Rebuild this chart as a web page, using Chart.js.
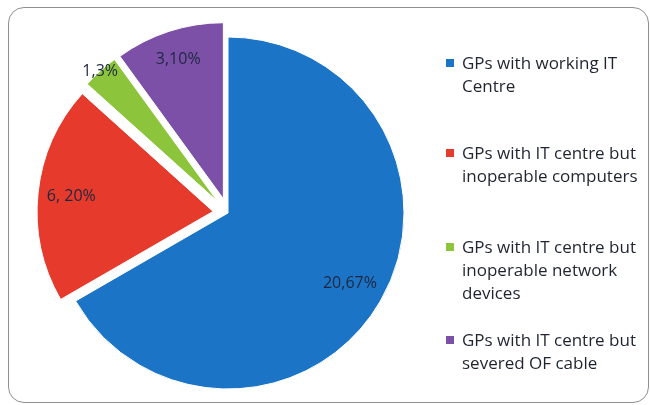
<!DOCTYPE html>
<html>
<head>
<meta charset="utf-8">
<script src="https://cdn.jsdelivr.net/npm/chart.js@4/dist/chart.umd.min.js"></script>
<style>
  html, body { margin: 0; padding: 0; background: #ffffff; overflow: hidden; }
  #wrap { position: relative; width: 650px; height: 405px; }
  #frame { position: absolute; left: 8px; top: 7px; width: 641px; height: 396px;
           border: 1.5px solid #8f8f8f; border-radius: 16px; box-sizing: border-box; }
  #pieBox { position: absolute; left: 0; top: 0; width: 456px; height: 405px; }
  #legend { position: absolute; left: 0; top: 0; width: 650px; height: 405px;
            font-family: "Open Sans", sans-serif; font-size: 17px; color: #1e2430; }
  .item { position: absolute; left: 462px; width: 184px; line-height: 23px; }
  .sw { position: absolute; left: -16px; top: 8px; width: 8px; height: 8px; }
</style>
</head>
<body>
<div id="wrap">
  <div id="frame"></div>
  <div id="pieBox"><canvas id="c"></canvas></div>
  <div id="legend"></div>
</div>
<script>
const categories = [
  "GPs with working IT Centre",
  "GPs with IT centre but inoperable computers",
  "GPs with IT centre but inoperable network devices",
  "GPs with IT centre but severed OF cable"
];
const counts = [20, 6, 1, 3];
const percents = [67, 20, 3, 10];
const sliceLabels = ["20,67%", "6, 20%", "1,3%", "3,10%"];
const colors = ["#1c74c6", "#e53a2c", "#8cc43c", "#7d50a8"];
const edgeColors = ["#1260ad", "#cc2a1f", "#76ad2c", "#6a3f93"];
const explodePx = [0, 15, 15, 15];
const labelRadius = [0.8, 0.81, 1.0, 0.83];
const legendTops = [51, 141, 235, 328];

// shift exploded slices outward along their mid-angle (after the library lays them out)
const explodePlugin = {
  id: 'explode',
  afterDatasetsUpdate(chart) {
    const meta = chart.getDatasetMeta(0);
    meta.data.forEach((arc, i) => {
      if (arc._baseX === undefined) { arc._baseX = arc.x; arc._baseY = arc.y; }
      const mid = (arc.startAngle + arc.endAngle) / 2;
      arc.x = arc._baseX + Math.cos(mid) * explodePx[i];
      arc.y = arc._baseY + Math.sin(mid) * explodePx[i];
    });
  }
};

const labelPlugin = {
  id: 'sliceLabels',
  afterDatasetsDraw(chart) {
    const ctx = chart.ctx;
    const meta = chart.getDatasetMeta(0);
    ctx.save();
    ctx.font = '16px "Open Sans", sans-serif';
    ctx.fillStyle = '#1d2840';
    ctx.textAlign = 'center';
    ctx.textBaseline = 'middle';
    meta.data.forEach((arc, i) => {
      const mid = (arc.startAngle + arc.endAngle) / 2;
      const r = arc.outerRadius * labelRadius[i];
      ctx.fillText(sliceLabels[i], arc.x + Math.cos(mid) * r, arc.y + Math.sin(mid) * r);
    });
    ctx.restore();
  }
};

function shade(context) {
  const chart = context.chart;
  const arc = context.element;
  const i = context.dataIndex;
  if (!arc || !chart.chartArea || !arc.outerRadius) return colors[i];
  const g = chart.ctx.createRadialGradient(arc.x, arc.y, 0, arc.x, arc.y, arc.outerRadius);
  g.addColorStop(0, colors[i]);
  g.addColorStop(0.85, colors[i]);
  g.addColorStop(1, edgeColors[i]);
  return g;
}

new Chart(document.getElementById('c'), {
  type: 'pie',
  data: {
    labels: categories,
    datasets: [{
      data: counts,
      backgroundColor: shade,
      borderColor: '#ffffff',
      borderWidth: 1,
      clip: false
    }]
  },
  options: {
    responsive: true,
    maintainAspectRatio: false,
    animation: false,
    radius: 176,
    layout: { padding: { top: 21, left: 0, right: 0, bottom: 0 } },
    plugins: { legend: { display: false }, tooltip: { enabled: false } }
  },
  plugins: [explodePlugin, labelPlugin]
});

const legend = document.getElementById('legend');
categories.forEach((name, i) => {
  const d = document.createElement('div');
  d.className = 'item';
  d.style.top = legendTops[i] + 'px';
  const sw = document.createElement('span');
  sw.className = 'sw';
  sw.style.background = colors[i];
  d.appendChild(sw);
  d.appendChild(document.createTextNode(name));
  legend.appendChild(d);
});
</script>
</body>
</html>
